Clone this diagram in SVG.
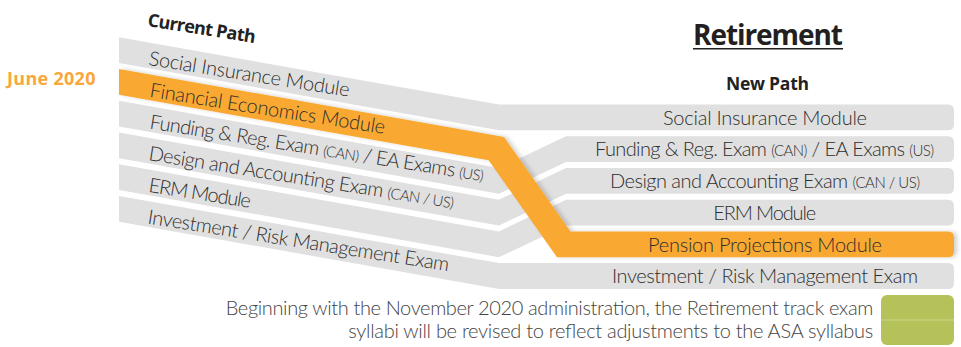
<svg xmlns="http://www.w3.org/2000/svg" width="961" height="347" viewBox="0 0 961 347">
  <style>
    .band { fill: #E0E0E0; }
    .hot { fill: #F9A833; }
    .t { font-family: Lato, "Source Sans Pro", "Open Sans", sans-serif; font-weight: 300; font-size: 20px; fill: #2E2E2E; }
    .s { font-size: 15px; }
    .c { text-anchor: middle; }
    .b { font-family: "Open Sans", Lato, sans-serif; font-weight: 700; fill: #222222; }
    .note { font-family: Lato, "Source Sans Pro", sans-serif; font-weight: 300; font-size: 20px; fill: #444444; text-anchor: end; }
  </style>
  <defs>
    <filter id="sh" x="-10%" y="-10%" width="120%" height="120%">
      <feDropShadow dx="3" dy="0" stdDeviation="2" flood-color="#000" flood-opacity="0.18"/>
    </filter>
  </defs>

  <g id="header">
    <text class="b" x="0" y="0" font-size="18" transform="translate(147,26) rotate(9)" textLength="109">Current Path</text>
    <text class="b" x="768" y="45" font-size="28" text-anchor="middle" textLength="150" style="fill:#231F20">Retirement</text>
    <line x1="693" y1="48.7" x2="843" y2="48.7" stroke="#231F20" stroke-width="1.6"/>
    <text class="b" x="767.5" y="90" font-size="17.5" text-anchor="middle" textLength="83">New Path</text>
    <text class="b" x="7" y="85" font-size="18" textLength="88.5" style="fill:#F8A73A">June 2020</text>
  </g>

  <g id="connectors">
    <!-- Social Insurance -->
    <path class="band" d="M119,37.3 L499,104.5 H948 Q954,104.5 954,110.5 V124.3 Q954,130.3 948,130.3 H499 L119,63.1 Z"/>
    <!-- Funding -->
    <path class="band" d="M119,100.74 L499,167.94 L566,136.22 H948 Q954,136.22 954,142.22 V156.02 Q954,162.02 948,162.02 H566 L499,193.74 L119,126.54 Z"/>
    <!-- Design -->
    <path class="band" d="M119,132.46 L499,199.66 L566,167.94 H948 Q954,167.94 954,173.94 V187.74 Q954,193.74 948,193.74 H566 L499,225.46 L119,158.26 Z"/>
    <!-- ERM -->
    <path class="band" d="M119,164.18 L499,231.38 L566,199.66 H948 Q954,199.66 954,205.66 V219.46 Q954,225.46 948,225.46 H566 L499,257.18 L119,189.98 Z"/>
    <!-- Investment -->
    <path class="band" d="M119,195.9 L499,263.1 H948 Q954,263.1 954,269.1 V282.9 Q954,288.9 948,288.9 H499 L119,221.7 Z"/>
    <!-- Financial Economics -> Pension Projections -->
    <path class="hot" filter="url(#sh)" d="M119,69.02 L504.1,137.1 L570.5,231.38 H948 Q954,231.38 954,237.38 V251.18 Q954,257.18 948,257.18 H557 L488.6,160.2 L119,94.82 Z"/>
  </g>

  <g id="cur-social"><text class="t" transform="translate(148,65) rotate(9)" textLength="203">Social Insurance Module</text></g>
  <g id="cur-financial"><text class="t" transform="translate(149,96.7) rotate(9)" textLength="238">Financial Economics Module</text></g>
  <g id="cur-funding"><text class="t" transform="translate(149,128.4) rotate(9)" textLength="338">Funding &amp; Reg. Exam <tspan class="s">(CAN)</tspan> / EA Exams <tspan class="s">(US)</tspan></text></g>
  <g id="cur-design"><text class="t" transform="translate(148,160.1) rotate(9)" textLength="309">Design and Accounting Exam <tspan class="s">(CAN / US)</tspan></text></g>
  <g id="cur-erm"><text class="t" transform="translate(148,191.8) rotate(9)" textLength="103">ERM Module</text></g>
  <g id="cur-investment"><text class="t" transform="translate(147,223.5) rotate(9)" textLength="305">Investment / Risk Management Exam</text></g>

  <g id="new-social"><text class="t c" x="765" y="124.7" textLength="204">Social Insurance Module</text></g>
  <g id="new-funding"><text class="t c" x="764.5" y="156.4" textLength="339">Funding &amp; Reg. Exam <tspan class="s">(CAN)</tspan> / EA Exams <tspan class="s">(US)</tspan></text></g>
  <g id="new-design"><text class="t c" x="765" y="188.1" textLength="310">Design and Accounting Exam <tspan class="s">(CAN / US)</tspan></text></g>
  <g id="new-erm"><text class="t c" x="764.7" y="219.8" textLength="103">ERM Module</text></g>
  <g id="new-pension"><text class="t c" x="765" y="251.5" textLength="234">Pension Projections Module</text></g>
  <g id="new-investment"><text class="t c" x="765" y="283.2" textLength="306">Investment / Risk Management Exam</text></g>

  <g id="note">
    <text class="note" x="873.3" y="315" textLength="647.6">Beginning with the November 2020 administration, the Retirement track exam</text>
    <text class="note" x="873.3" y="338.3" textLength="525">syllabi will be revised to reflect adjustments to the ASA syllabus</text>
    <rect x="881" y="295" width="73" height="50" rx="6" fill="#B5C259"/>
    <line x1="881" y1="320" x2="954" y2="320" stroke="#CCD68C" stroke-width="1"/>
  </g>
</svg>
